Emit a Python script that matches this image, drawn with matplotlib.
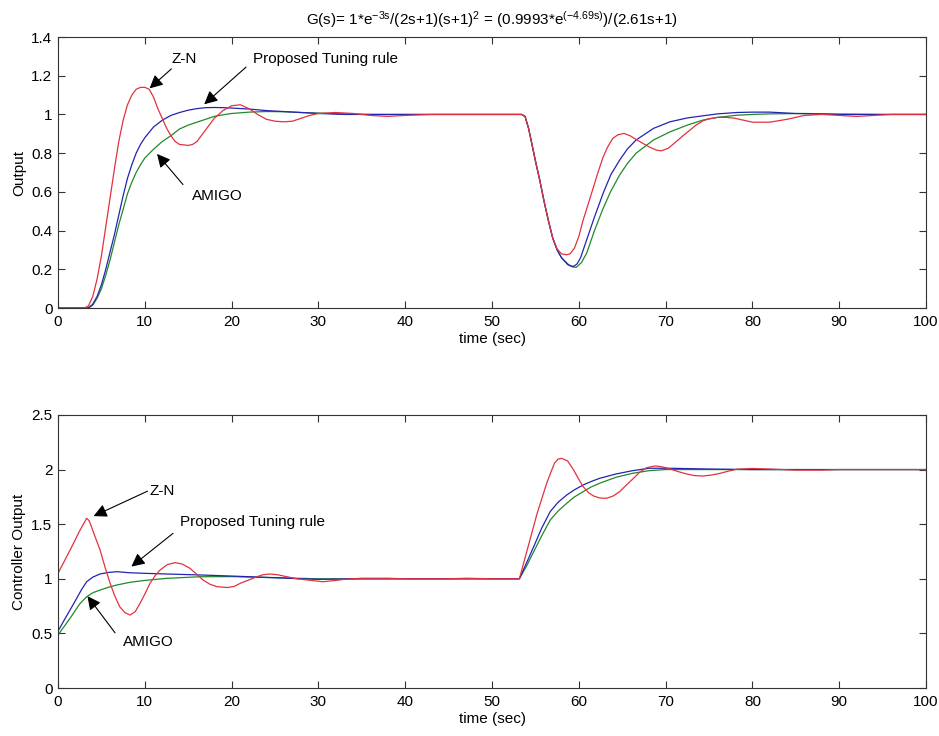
import matplotlib as mpl
import matplotlib.pyplot as plt

mpl.rcParams["font.family"] = ["Liberation Sans Narrow", "Liberation Sans", "DejaVu Sans"]
mpl.rcParams["mathtext.fontset"] = "custom"
mpl.rcParams["mathtext.rm"] = "Liberation Sans"
mpl.rcParams["mathtext.it"] = "Liberation Sans"
mpl.rcParams["font.size"] = 11

# -------------------------------------
# Process output (step at t=0, load disturbance at t~53)
# -------------------------------------

t_out_zn = [0, 3, 3.5, 4, 4.5, 5, 5.5, 6, 6.5, 7, 7.5, 8, 8.5, 9, 9.5, 10, 10.5, 11, 11.5, 12,
            12.5, 13, 13.5, 14, 15, 15.5, 16, 17, 18, 19, 20, 21, 22, 23, 24, 25, 26, 27, 28, 29,
            30, 32, 34, 36, 38, 40, 43, 53.4, 53.8, 54.2, 54.5, 55, 55.5, 56, 56.5, 57, 57.5, 58,
            58.6, 59, 59.5, 60, 60.5, 61.1, 61.7, 62.2, 62.8, 63.3, 63.9, 64.5, 65.2, 65.9, 66.6,
            67.4, 68.2, 69, 69.5, 70.3, 71.2, 72, 72.8, 73.5, 74.3, 75, 76, 77, 78, 79, 80, 82, 84,
            86, 88, 90, 92, 94, 96, 100]
y_out_zn = [0, 0, 0.01, 0.06, 0.15, 0.27, 0.42, 0.57, 0.72, 0.86, 0.97, 1.05, 1.10, 1.13, 1.14,
            1.14, 1.13, 1.09, 1.03, 0.98, 0.93, 0.89, 0.86, 0.845, 0.84, 0.845, 0.86, 0.92, 0.98,
            1.02, 1.045, 1.05, 1.03, 1.0, 0.975, 0.965, 0.962, 0.965, 0.98, 0.995, 1.005, 1.01,
            1.005, 0.995, 0.99, 0.995, 1.0, 1.0, 0.99, 0.93, 0.867, 0.76, 0.66, 0.55, 0.45, 0.36,
            0.305, 0.28, 0.275, 0.28, 0.31, 0.37, 0.455, 0.54, 0.627, 0.70, 0.78, 0.83, 0.876,
            0.895, 0.902, 0.89, 0.871, 0.85, 0.83, 0.815, 0.812, 0.825, 0.859, 0.89, 0.919, 0.945,
            0.967, 0.978, 0.985, 0.985, 0.98, 0.97, 0.96, 0.96, 0.975, 0.995, 1.0, 0.995, 0.99,
            0.995, 1.0, 1.0]

t_out_prop = [0, 3.5, 4, 4.5, 5, 5.5, 6, 6.5, 7, 7.5, 8, 8.5, 9, 9.5, 10, 11, 12, 13, 14, 15,
              16, 17, 18, 19, 20, 22, 24, 26, 28, 30, 33, 53.4, 53.8, 54.2, 54.5, 55, 55.5, 56,
              56.5, 57, 57.5, 58, 58.7, 59.0, 59.4, 59.8, 60.2, 60.9, 61.8, 62.8, 63.7, 64.7, 65.6,
              66.6, 68.6, 70.5, 72.5, 74.3, 76, 78.2, 80, 82, 85, 90, 100]
y_out_prop = [0, 0, 0.02, 0.06, 0.12, 0.2, 0.29, 0.38, 0.48, 0.58, 0.67, 0.74, 0.8, 0.845, 0.88,
              0.935, 0.97, 0.995, 1.01, 1.022, 1.03, 1.035, 1.036, 1.035, 1.033, 1.028, 1.02,
              1.015, 1.01, 1.005, 1.0, 1.0, 0.99, 0.93, 0.867, 0.76, 0.66, 0.55, 0.45, 0.36, 0.3,
              0.26, 0.225, 0.218, 0.215, 0.228, 0.26, 0.352, 0.47, 0.593, 0.69, 0.764, 0.822,
              0.868, 0.928, 0.962, 0.982, 0.993, 1.003, 1.01, 1.012, 1.012, 1.005, 1.0, 1.0]

t_out_amigo = [0, 3.5, 4, 4.5, 5, 5.5, 6, 6.5, 7, 7.5, 8, 8.5, 9, 9.5, 10, 11, 12, 13, 14, 15,
               16, 17, 18, 19, 20, 22, 24, 26, 28, 30, 33, 36, 53.4, 53.8, 54.2, 54.5, 55, 55.5,
               56, 56.5, 57, 57.5, 58, 58.8, 59.3, 59.7, 60.3, 60.9, 61.8, 62.8, 63.7, 64.7, 65.6,
               66.6, 68.6, 70.5, 72.5, 74.3, 76, 78.2, 80, 82, 86, 90, 95, 100]
y_out_amigo = [0, 0, 0.015, 0.05, 0.1, 0.17, 0.25, 0.34, 0.43, 0.51, 0.59, 0.65, 0.7, 0.74,
               0.775, 0.82, 0.86, 0.89, 0.925, 0.945, 0.96, 0.975, 0.99, 0.998, 1.005, 1.012,
               1.015, 1.014, 1.01, 1.007, 1.003, 1.0, 1.0, 0.99, 0.93, 0.867, 0.76, 0.66, 0.55,
               0.45, 0.36, 0.3, 0.26, 0.225, 0.212, 0.21, 0.235, 0.283, 0.4, 0.515, 0.605, 0.687,
               0.747, 0.8, 0.868, 0.91, 0.945, 0.971, 0.985, 0.996, 1.0, 1.003, 1.005, 1.002,
               1.0, 1.0]

# -------------------------------------
# Controller output
# -------------------------------------

t_u_zn = [0, 1.5, 2.5, 3.3, 3.6, 4.2, 4.84, 5.4, 6.0, 6.5, 7.1, 7.7, 8.3, 8.9, 9.45, 10, 10.6,
          11.2, 11.75, 12.6, 13.5, 14.3, 15.2, 16, 16.7, 17.5, 18.3, 19.5, 20.3, 21, 22, 22.9,
          23.6, 24.4, 25.3, 26.3, 27.5, 28.6, 30.5, 32, 33, 35, 38, 40, 45, 47, 50, 53.15, 55.2,
          56.3, 56.8, 57.2, 57.6, 58.0, 58.7, 59.4, 60, 60.5, 61.1, 61.7, 62.4, 63.2, 64, 64.7,
          65.5, 66.3, 67, 67.8, 68.8, 69.6, 70.5, 71.5, 72.4, 73.3, 74.3, 75.3, 76.3, 77.2,
          78.2, 80, 82, 85, 88, 90, 100]
u_zn = [1.05, 1.28, 1.44, 1.554, 1.53, 1.40, 1.264, 1.11, 0.959, 0.85, 0.745, 0.69, 0.668,
        0.70, 0.776, 0.86, 0.959, 1.03, 1.08, 1.13, 1.148, 1.135, 1.096, 1.04, 0.989, 0.95,
        0.928, 0.92, 0.93, 0.959, 0.99, 1.019, 1.037, 1.044, 1.037, 1.02, 1.0, 0.99, 0.973,
        0.985, 0.995, 1.005, 1.005, 1.0, 1.0, 1.005, 1.0, 1.0, 1.6, 1.875, 1.98, 2.06, 2.095,
        2.103, 2.08, 1.996, 1.91, 1.844, 1.79, 1.758, 1.74, 1.737, 1.76, 1.798, 1.86, 1.92,
        1.975, 2.017, 2.033, 2.025, 2.006, 1.98, 1.96, 1.945, 1.941, 1.95, 1.966, 1.985, 2.003,
        2.01, 2.005, 1.995, 1.995, 2.0, 2.0]

t_u_prop = [0, 0.7, 1.38, 2.0, 2.7, 3.3, 4.0, 4.84, 5.8, 6.76, 8.3, 10, 12.5, 16.4, 20, 25, 28,
            30, 35, 53.15, 54.0, 54.8, 55.7, 56.7, 57.6, 58.6, 59.5, 60.5, 61.4, 62.4, 64.3, 66.2,
            68.1, 70.5, 75, 80, 100]
u_prop = [0.52, 0.62, 0.714, 0.8, 0.9, 0.973, 1.015, 1.044, 1.058, 1.065, 1.055, 1.05, 1.044,
          1.035, 1.025, 1.01, 1.0, 0.995, 1.0, 1.0, 1.15, 1.294, 1.46, 1.615, 1.70, 1.767, 1.815,
          1.859, 1.89, 1.92, 1.96, 1.99, 2.012, 2.012, 2.005, 2.0, 2.0]

t_u_amigo = [0, 1.38, 2.5, 3.3, 4.0, 4.84, 5.8, 6.76, 8.3, 10, 12.5, 16.4, 20, 25, 30, 53.15,
             54.0, 54.8, 55.7, 56.7, 57.6, 58.6, 59.5, 60.5, 61.4, 62.4, 64.3, 66.2, 68.1, 70,
             80, 100]
u_amigo = [0.485, 0.638, 0.77, 0.836, 0.872, 0.897, 0.922, 0.943, 0.968, 0.985, 1.004, 1.019,
           1.02, 1.01, 1.0, 1.0, 1.12, 1.248, 1.39, 1.538, 1.62, 1.691, 1.75, 1.798, 1.84, 1.875,
           1.93, 1.966, 1.99, 2.0, 2.0, 2.0]

out_ticks = [0, 0.2, 0.4, 0.6, 0.8, 1.0, 1.2, 1.4]
u_ticks = [0, 0.5, 1.0, 1.5, 2.0, 2.5]
time_ticks = list(range(0, 101, 10))

RED = "#e2323f"
BLUE = "#2323b4"
GREEN = "#1f8a2a"

# -------------------------------------
# Plotting
# -------------------------------------

fig = plt.figure(figsize=(9.39, 7.36), dpi=100)
ax1 = fig.add_axes([0.0618, 0.5815, 0.9244, 0.3682])
ax2 = fig.add_axes([0.0618, 0.0652, 0.9244, 0.371])

ax1.plot(t_out_amigo, y_out_amigo, color=GREEN, lw=0.9)
ax1.plot(t_out_prop, y_out_prop, color=BLUE, lw=0.9)
ax1.plot(t_out_zn, y_out_zn, color=RED, lw=0.9)

ax2.plot(t_u_amigo, u_amigo, color=GREEN, lw=0.9)
ax2.plot(t_u_prop, u_prop, color=BLUE, lw=0.9)
ax2.plot(t_u_zn, u_zn, color=RED, lw=0.9)

arrow = dict(arrowstyle="-|>", color="black", lw=0.8, mutation_scale=20)


def label(ax, text, text_xy, tail, head, ha="center"):
    ax.text(*text_xy, text, ha=ha, va="center")
    ax.annotate("", xy=head, xytext=tail, arrowprops=arrow)


label(ax1, "Z-N", (14.5, 1.285), (13.3, 1.245), (10.3, 1.125))
label(ax1, "Proposed Tuning rule", (22.5, 1.285), (21.9, 1.254), (16.6, 1.043), ha="left")
label(ax1, "AMIGO", (18.3, 0.58), (14.6, 0.627), (11.2, 0.807))

label(ax2, "Z-N", (11.95, 1.806), (10.6, 1.813), (3.8, 1.563))
label(ax2, "Proposed Tuning rule", (14.1, 1.516), (13.5, 1.432), (8.2, 1.096), ha="left")
label(ax2, "AMIGO", (10.4, 0.417), (6.76, 0.485), (3.2, 0.861))

ax1.set_title(r"G(s)= 1*e$^{\mathrm{-3s}}$/(2s+1)(s+1)$^{\mathrm{2}}$ = "
              r"(0.9993*e$^{\mathrm{(-4.69s)}}$)/(2.61s+1)", fontsize=11, pad=9)

for ax, ticks, name in [(ax1, out_ticks, "Output"), (ax2, u_ticks, "Controller Output")]:
    ax.set_xlim(0, 100)
    ax.set_ylim(ticks[0], ticks[-1])
    ax.set_xticks(time_ticks)
    ax.set_yticks(ticks)
    ax.set_yticklabels([f"{v:g}" for v in ticks])
    ax.set_xlabel("time (sec)", labelpad=2)
    ax.set_ylabel(name, labelpad=4)
    ax.tick_params(direction="in", top=True, right=True, length=5, width=0.8,
                   color="#333333")
    ax.tick_params(axis="x", pad=5)
    ax.tick_params(axis="y", pad=4)
    for spine in ax.spines.values():
        spine.set_color("#333333")
        spine.set_linewidth(0.8)

fig.savefig("out.png", dpi=100)
